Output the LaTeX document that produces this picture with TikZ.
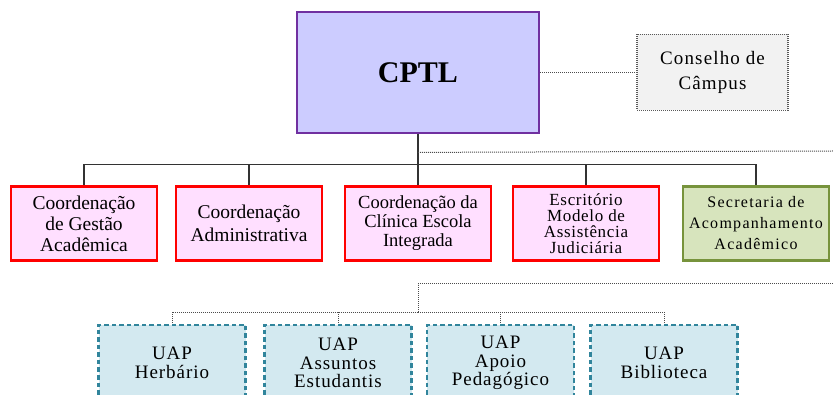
\documentclass[tikz,border=0pt]{standalone}
\usepackage{fontspec}
\setmainfont{Liberation Serif}
\usepackage{tikz}
\definecolor{roxoborda}{HTML}{7030A0}
\definecolor{roxofundo}{HTML}{CCCCFF}
\definecolor{rosafundo}{HTML}{FFDFFF}
\definecolor{verdeborda}{HTML}{77933C}
\definecolor{verdefundo}{HTML}{D7E4BD}
\definecolor{azulborda}{HTML}{31859C}
\definecolor{azulfundo}{HTML}{D3E9F0}
\definecolor{cinzafundo}{HTML}{F2F2F2}

\begin{document}
\begin{tikzpicture}[
			x = 1pt, y = -1pt,
			every node/.style = {inner sep = 0pt, align = center, font = \fontsize{19.5}{21}\selectfont},
			caixa/.style = {draw = red, line width = 2.5pt, fill = rosafundo, minimum width = 146pt, minimum height = 74pt},
			secretaria/.style = {caixa, draw = verdeborda, fill = verdefundo, font = \fontsize{16}{21}\selectfont\addfontfeatures{LetterSpace=8}},
			uap/.style = {caixa, draw = azulborda, fill = azulfundo, line width = 2.8pt, dash pattern = on 4.5pt off 3pt, minimum width = 147pt, minimum height = 76pt, font = \fontsize{19}{18.5}\selectfont\addfontfeatures{LetterSpace=5}},
			conselho/.style = {draw = black!65, line width = 1.2pt, dash pattern = on 1pt off 1pt, fill = cinzafundo, minimum width = 151pt, minimum height = 76pt, font = \fontsize{19}{25}\selectfont\addfontfeatures{LetterSpace=6}},
			ligacao/.style = {line width = 1.3pt, black!80},
			pontilhado/.style = {line width = 1pt, dash pattern = on 1pt off 1pt, black!70}]

			\useasboundingbox (0,0) rectangle (833,395);
			\clip (0,0) rectangle (833,395);

			\node[draw = roxoborda, line width = 2.8pt, fill = roxofundo, minimum width = 242pt, minimum height = 121pt, font = \fontsize{30}{30}\selectfont\bfseries] (cptl) at (418,72.5) {CPTL};
			\node[conselho] (conselho) at (712.5,72.5) {Conselho de\\Câmpus};

			\node[caixa] (gestao) at (84,223.5) {Coordenação\\de Gestão\\Acadêmica};
			\node[caixa, font = \fontsize{19.5}{23}\selectfont] (adm) at (249,223.5) {Coordenação\\Administrativa};
			\node[caixa, font = \fontsize{18.5}{19}\selectfont] (clinica) at (418,223.5) {Coordenação da\\Clínica Escola\\Integrada};
			\node[caixa, font = \fontsize{17}{16}\selectfont\addfontfeatures{LetterSpace=4}] (escritorio) at (586,223.5) {Escritório\\Modelo de\\Assistência\\Judiciária};
			\node[secretaria] (secretaria) at (756,223.5) {Secretaria de\\Acompanhamento\\Acadêmico};

			\node[uap] (herbario) at (172,363) {UAP\\Herbário};
			\node[uap] (assuntos) at (338,363) {UAP\\Assuntos\\Estudantis};
			\node[uap] (apoio) at (500.5,363) {UAP\\Apoio\\Pedagógico};
			\node[uap] (biblioteca) at (664,363) {UAP\\Biblioteca};

			\path (cptl.south) ++(0,30) coordinate (barra);
			\path (cptl.south) ++(0,18) coordinate (ramal);
			\path (cptl.south) ++(0,178) coordinate (uapbarra);
			\coordinate (dir1) at (833,151);
			\coordinate (dir2) at (833,284);

			\draw[pontilhado] (cptl) -- (conselho);
			\draw[ligacao] (cptl) -- (barra);
			\foreach \n in {gestao,adm,clinica,escritorio,secretaria}
				\draw[ligacao] (barra) -| (\n);

			\draw[pontilhado] (ramal) -- (dir1);
			\draw[pontilhado] (dir2) -| (uapbarra);
			\foreach \n in {herbario,assuntos,apoio,biblioteca}
				\draw[pontilhado] (uapbarra) -| (\n);

		\end{tikzpicture}
\end{document}
